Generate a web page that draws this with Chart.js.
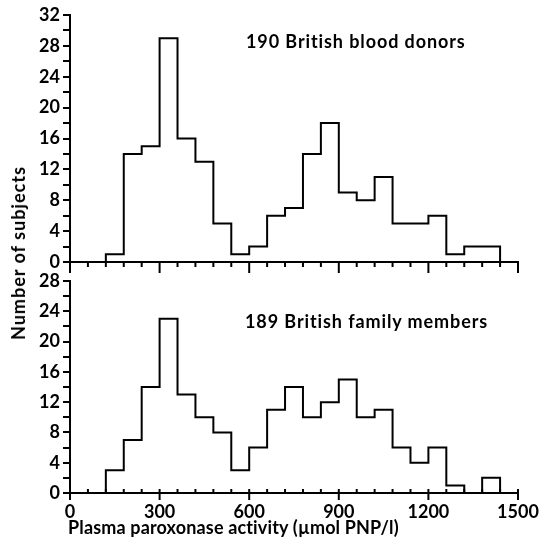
<!DOCTYPE html>
<html>
<head>
<meta charset="utf-8">
<script src="https://cdn.jsdelivr.net/npm/chart.js@4"></script>
<style>
  body { margin: 0; background: #fff; }
  #wrap { position: relative; width: 552px; height: 540px; overflow: hidden; font-family: Lato, sans-serif; color: #000; }
  .box { position: absolute; left: 0; width: 552px; }
  .txt { position: absolute; white-space: nowrap; font-size: 18px; font-weight: bold; }
</style>
</head>
<body>
<div id="wrap">
  <div class="box" style="top:0;height:280px"><canvas id="donorChart"></canvas></div>
  <div class="box" style="top:264px;height:276px"><canvas id="familyChart"></canvas></div>
  <div class="txt" style="left:246px;top:30px;letter-spacing:0.9px">190 British blood donors</div>
  <div class="txt" style="left:245px;top:310px;letter-spacing:0.9px">189 British family members</div>
  <div class="txt" style="left:68px;top:516px;letter-spacing:0.15px">Plasma paroxonase activity (µmol PNP/l)</div>
  <div class="txt" style="left:18px;top:253px;letter-spacing:1px;transform:translate(-50%,-50%) rotate(-90deg)">Number of subjects</div>
</div>
<script>
// histogram bins: 60 µmol/l wide, first bin starts at 120
const binStart = 120;
const binWidth = 60;
const donorCounts = [1, 14, 15, 29, 16, 13, 5, 1, 2, 6, 7, 14, 18, 9, 8, 11, 5, 5, 6, 1, 2, 2];
const familyCounts = [3, 7, 14, 23, 13, 10, 8, 3, 6, 11, 14, 10, 12, 15, 10, 11, 6, 4, 6, 1, 0, 2];
const xTickLabels = [0, 300, 600, 900, 1200, 1500];

// outline points for a step line: start on the axis, one point per bin edge, back to the axis
function outline(counts) {
    const pts = [{ x: binStart, y: 0 }];
    counts.forEach((c, i) => {
        pts.push({ x: binStart + (i + 1) * binWidth, y: c });
    });
    pts.push({ x: binStart + counts.length * binWidth, y: 0 });
    return pts;
}

// x axis tick marks (short every bin, longer at labelled values)
const tickMarks = {
    id: 'tickMarks',
    afterDraw(chart, args, opts) {
        const sx = chart.scales.x;
        const ctx = chart.ctx;
        const y0 = sx.top;
        ctx.save();
        ctx.strokeStyle = '#000';
        ctx.lineWidth = 2;
        for (let v = 0; v <= 1500; v += binWidth) {
            const px = sx.getPixelForValue(v);
            const major = xTickLabels.includes(v);
            const up = major ? opts.majorUp : opts.minorUp;
            const down = major ? opts.majorDown : opts.minorDown;
            ctx.beginPath();
            ctx.moveTo(px, y0 - up);
            ctx.lineTo(px, y0 + down);
            ctx.stroke();
        }
        ctx.restore();
    }
};

const tickFont = { family: 'Lato, sans-serif', size: 18, weight: 'bold' };

function makeChart(id, counts, yMax, opts) {
    return new Chart(document.getElementById(id), {
        type: 'line',
        data: {
            datasets: [{
                data: outline(counts),
                stepped: 'after',
                borderColor: '#000',
                borderWidth: 2,
                pointRadius: 0,
                fill: false
            }]
        },
        plugins: [tickMarks],
        options: {
            responsive: true,
            maintainAspectRatio: false,
            animation: false,
            layout: { padding: { top: opts.padTop, right: 34, left: 0, bottom: 0 } },
            plugins: {
                legend: { display: false },
                tooltip: { enabled: false },
                tickMarks: opts.marks
            },
            scales: {
                x: {
                    type: 'linear',
                    min: 0,
                    max: 1500,
                    afterFit: (s) => { s.height = opts.xHeight; },
                    border: { display: true, color: '#000', width: 2 },
                    grid: { display: false, drawTicks: false },
                    ticks: {
                        display: opts.xLabels,
                        stepSize: binWidth,
                        autoSkip: false,
                        maxRotation: 0,
                        padding: 8,
                        color: '#000',
                        font: tickFont,
                        callback: (v) => xTickLabels.includes(v) ? v : ''
                    }
                },
                y: {
                    min: 0,
                    max: yMax,
                    afterFit: (s) => { s.width = 70; },
                    border: { display: true, color: '#000', width: 2 },
                    grid: { drawOnChartArea: false, color: '#000', lineWidth: 2, tickLength: 7 },
                    ticks: {
                        stepSize: 2,
                        autoSkip: false,
                        padding: 3,
                        color: '#000',
                        font: tickFont,
                        callback: (v) => v % 4 === 0 ? v : ''
                    }
                }
            }
        }
    });
}

makeChart('donorChart', donorCounts, 32, {
    padTop: 15, xHeight: 18, xLabels: false,
    marks: { minorUp: 0, minorDown: 5, majorUp: 0, majorDown: 11 }
});
makeChart('familyChart', familyCounts, 28, {
    padTop: 17, xHeight: 47, xLabels: true,
    marks: { minorUp: 4, minorDown: 0, majorUp: 4, majorDown: 7 }
});
</script>
</body>
</html>
